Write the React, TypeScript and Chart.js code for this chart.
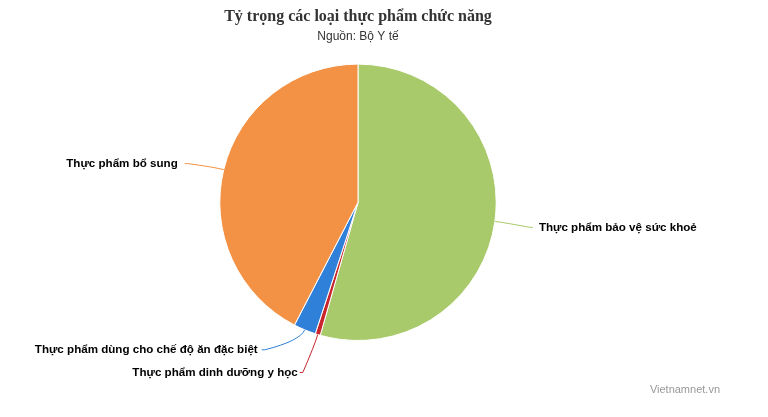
import { useEffect, useRef } from "react"
import { Chart, type ChartConfiguration, type Plugin, registerables } from "chart.js"

Chart.register(...registerables)

const categories = [
  "Thực phẩm bảo vệ sức khoẻ",
  "Thực phẩm dinh dưỡng y học",
  "Thực phẩm dùng cho chế độ ăn đặc biệt",
  "Thực phẩm bổ sung",
]
const shares = [54.4, 0.6, 2.6, 42.4]
const sliceColors = ["#a8ca6a", "#c8262c", "#2f80d8", "#f39244"]

// where each label's connector ends, relative to the slice's outer edge
const labelOffsets: [number, number][] = [
  [35, 6],
  [-15, 38],
  [-40, 20],
  [-36, -6],
]
const labelGaps = [9, 5, 7, 10]

const labelFont = "bold 11.6px 'Liberation Sans', Arial, sans-serif"

const pieLabels: Plugin<"pie"> = {
  id: "pieLabels",
  afterDatasetsDraw(chart) {
    const ctx = chart.ctx
    const meta = chart.getDatasetMeta(0)
    ctx.save()
    meta.data.forEach((el: any, i) => {
      const { x, y, startAngle, endAngle, outerRadius } = el.getProps(
        ["x", "y", "startAngle", "endAngle", "outerRadius"],
        true
      )
      const mid = (startAngle + endAngle) / 2
      const ux = Math.cos(mid)
      const uy = Math.sin(mid)
      const sx = x + ux * outerRadius
      const sy = y + uy * outerRadius
      const [dx, dy] = labelOffsets[i]
      const ex = sx + dx
      const ey = sy + dy
      const right = dx > 0

      ctx.beginPath()
      ctx.strokeStyle = sliceColors[i]
      ctx.lineWidth = 1
      ctx.moveTo(sx, sy)
      ctx.quadraticCurveTo(sx + ux * 12, sy + uy * 12, ex, ey)
      ctx.lineTo(ex + (right ? 3 : -3), ey)
      ctx.stroke()

      ctx.font = labelFont
      ctx.textBaseline = "middle"
      ctx.textAlign = right ? "left" : "right"
      const tx = ex + (right ? labelGaps[i] : -labelGaps[i])
      ctx.lineJoin = "round"
      ctx.lineWidth = 3
      ctx.strokeStyle = "#ffffff"
      ctx.strokeText(categories[i], tx, ey)
      ctx.fillStyle = "#000000"
      ctx.fillText(categories[i], tx, ey)
    })

    ctx.font = "11px 'Liberation Sans', Arial, sans-serif"
    ctx.fillStyle = "#999999"
    ctx.textAlign = "right"
    ctx.textBaseline = "middle"
    ctx.fillText("Vietnamnet.vn", chart.width - 48, 390)
    ctx.restore()
  },
}

export default function App() {
  const chartRef = useRef<HTMLCanvasElement>(null)
  const chartInstance = useRef<Chart | null>(null)

  useEffect(() => {
    document.body.style.margin = "0"
    if (!chartRef.current) return
    if (chartInstance.current) chartInstance.current.destroy()

    const config: ChartConfiguration<"pie"> = {
      type: "pie",
      data: {
        labels: categories,
        datasets: [
          {
            data: shares,
            backgroundColor: sliceColors,
            borderColor: "#ffffff",
            borderWidth: 1,
          },
        ],
      },
      options: {
        responsive: true,
        maintainAspectRatio: false,
        animation: false,
        layout: { padding: { left: 0, right: 52, top: 0, bottom: 76 } },
        plugins: {
          legend: { display: false },
          tooltip: { enabled: false },
          title: {
            display: true,
            text: "Tỷ trọng các loại thực phẩm chức năng",
            color: "#333333",
            font: { family: "'Liberation Serif', 'Times New Roman', serif", size: 16, weight: "bold" },
            padding: { top: 7, bottom: 3 },
          },
          subtitle: {
            display: true,
            text: "Nguồn: Bộ Y tế",
            color: "#333333",
            font: { family: "'Liberation Sans', Arial, sans-serif", size: 12 },
            padding: { top: 0, bottom: 20 },
          },
        },
      },
      plugins: [pieLabels],
    }

    chartInstance.current = new Chart(chartRef.current, config)
    return () => {
      chartInstance.current?.destroy()
      chartInstance.current = null
    }
  }, [])

  return (
    <div style={{ position: "relative", width: 768, height: 417 }}>
      <canvas ref={chartRef} />
    </div>
  )
}
